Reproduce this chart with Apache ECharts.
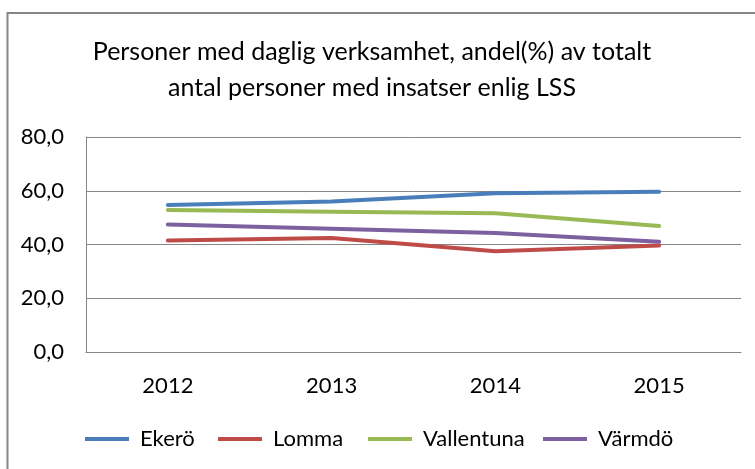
<!DOCTYPE html>
<html>
<head>
<meta charset="utf-8">
<script src="https://cdn.jsdelivr.net/npm/echarts@6/dist/echarts.min.js"></script>
<style>
  html, body { margin: 0; padding: 0; background: #fff; }
  #chart { width: 755px; height: 469px; }
</style>
</head>
<body>
<div id="chart"></div>
<script>
// Andel (%) personer med daglig verksamhet per kommun och år
const years = ['2012', '2013', '2014', '2015'];
const ekero = [54.7, 56.0, 59.1, 59.6];
const lomma = [41.5, 42.4, 37.5, 39.6];
const vallentuna = [52.8, 52.2, 51.6, 46.9];
const varmdo = [47.4, 45.9, 44.3, 41.0];
const seriesNames = ['Ekerö', 'Lomma', 'Vallentuna', 'Värmdö'];
const seriesColors = ['#4A7EBB', '#BE4B48', '#98B954', '#7D60A0'];
const titleLines = ['Personer med daglig verksamhet, andel(%) av totalt', 'antal personer med insatser enlig LSS'];

// left edge of each legend entry
const legendLefts = [85, 218, 368, 543];

const FONT = 'Lato, "Open Sans", sans-serif';
const chart = echarts.init(document.getElementById('chart'), null, { renderer: 'canvas' });

const values = [ekero, lomma, vallentuna, varmdo];

chart.setOption({
  backgroundColor: '#ffffff',
  animation: false,
  textStyle: { fontFamily: FONT },
  graphic: [
    { type: 'line', shape: { x1: 7.5, y1: 12, x2: 7.5, y2: 469 }, style: { stroke: '#868686', lineWidth: 2 } },
    { type: 'line', shape: { x1: 7, y1: 13, x2: 755, y2: 13 }, style: { stroke: '#868686', lineWidth: 2 } },
    {
      type: 'text', x: 372, y: 34,
      style: {
        text: titleLines.join('\n'), textAlign: 'center',
        font: '25px ' + FONT, fill: '#000', lineHeight: 36
      }
    }
  ],
  legend: seriesNames.map((name, i) => ({
    left: legendLefts[i], top: 428, padding: 0,
    icon: 'rect', itemWidth: 44, itemHeight: 4,
    textStyle: { fontFamily: FONT, fontSize: 22, color: '#000', padding: [0, 0, 0, 6] },
    data: [name]
  })),
  grid: { left: 86, right: 14, top: 137, bottom: 117 },
  xAxis: {
    type: 'category', data: years, boundaryGap: true,
    axisLine: { lineStyle: { color: '#868686', width: 1 } },
    axisTick: { show: false },
    axisLabel: { fontFamily: FONT, fontSize: 22, color: '#000', margin: 23 }
  },
  yAxis: {
    type: 'value', min: 0, max: 80, interval: 20,
    axisLine: { show: true, lineStyle: { color: '#868686', width: 1 } },
    axisTick: { show: false },
    splitLine: { lineStyle: { color: '#868686', width: 1 } },
    axisLabel: {
      fontFamily: FONT, fontSize: 22, color: '#000', margin: 22,
      formatter: v => v.toFixed(1).replace('.', ',')
    }
  },
  series: seriesNames.map((name, i) => ({
    name, type: 'line', data: values[i],
    symbol: 'none', smooth: false,
    lineStyle: { color: seriesColors[i], width: 4, cap: 'round' },
    itemStyle: { color: seriesColors[i] }
  }))
});
</script>
</body>
</html>
